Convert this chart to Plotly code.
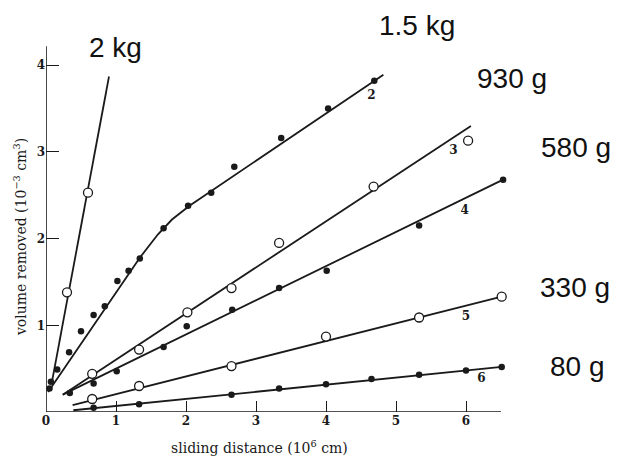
import plotly.graph_objects as go

# ---- data ----
# 2 kg (open circles)
s1_x = [0.30, 0.60]
s1_y = [1.38, 2.53]
s1_line_x = [0.09, 0.90]
s1_line_y = [0.37, 3.87]

# 1.5 kg (filled dots)
s2_x = [0.05, 0.07, 0.16, 0.33, 0.50, 0.68, 0.84, 1.02, 1.18, 1.34, 1.68, 2.03, 2.36, 2.69, 3.36, 4.03, 4.69]
s2_y = [0.27, 0.35, 0.49, 0.69, 0.93, 1.12, 1.22, 1.51, 1.63, 1.77, 2.12, 2.38, 2.53, 2.83, 3.16, 3.50, 3.82]
s2_line_x = [0.03, 1.35, 1.60, 1.80, 2.05, 4.82]
s2_line_y = [0.23, 1.79, 2.05, 2.22, 2.38, 3.89]

# 930 g (open circles)
s3_x = [0.66, 1.33, 2.02, 2.65, 3.33, 4.68, 6.03]
s3_y = [0.44, 0.72, 1.15, 1.43, 1.95, 2.60, 3.13]
s3_line_x = [0.24, 6.07]
s3_line_y = [0.20, 3.30]

# 580 g (filled dots)
s4_x = [0.34, 0.68, 1.01, 1.68, 2.01, 2.66, 3.33, 4.01, 5.33, 6.53]
s4_y = [0.22, 0.33, 0.47, 0.75, 0.99, 1.18, 1.43, 1.63, 2.15, 2.68]
s4_line_x = [0.24, 6.53]
s4_line_y = [0.20, 2.68]

# 330 g (open circles)
s5_x = [0.66, 1.33, 2.65, 4.00, 5.33, 6.51]
s5_y = [0.15, 0.30, 0.53, 0.87, 1.09, 1.33]
s5_line_x = [0.38, 6.51]
s5_line_y = [0.08, 1.33]

# 80 g (filled dots)
s6_x = [0.68, 1.33, 2.65, 3.33, 4.00, 4.65, 5.33, 6.00, 6.51]
s6_y = [0.05, 0.09, 0.20, 0.27, 0.32, 0.38, 0.43, 0.48, 0.52]
s6_line_x = [0.39, 6.51]
s6_line_y = [0.02, 0.52]

curve_nums = ["2", "3", "4", "5", "6"]
curve_num_x = [4.65, 5.82, 5.98, 6.00, 6.22]
curve_num_y = [3.64, 3.01, 2.32, 1.10, 0.38]

load_labels = ["2 kg", "1.5 kg", "930 g", "580 g", "330 g", "80 g"]
load_x = [0.99, 5.30, 6.66, 7.57, 7.56, 7.59]
load_y = [4.20, 4.46, 3.85, 3.05, 1.44, 0.52]

x_ticks = [0, 1, 2, 3, 4, 5, 6]
y_ticks = [1, 2, 3, 4]

x_title = "sliding distance (10<sup>6</sup> cm)"
y_title = "volume removed (10<sup>−3</sup> cm<sup>3</sup>)"

INK = "#1a1a1a"
SERIF = "DejaVu Serif"

fig = go.Figure()

lines = [(s1_line_x, s1_line_y), (s2_line_x, s2_line_y), (s3_line_x, s3_line_y),
         (s4_line_x, s4_line_y), (s5_line_x, s5_line_y), (s6_line_x, s6_line_y)]
for lx, ly in lines:
    fig.add_trace(go.Scatter(x=lx, y=ly, mode="lines",
                             line=dict(color=INK, width=1.8), hoverinfo="skip"))

open_pts = [(s1_x, s1_y), (s3_x, s3_y), (s5_x, s5_y)]
filled_pts = [(s2_x, s2_y), (s4_x, s4_y), (s6_x, s6_y)]
for px, py in open_pts:
    fig.add_trace(go.Scatter(x=px, y=py, mode="markers",
                             marker=dict(symbol="circle", size=9, color="white",
                                         line=dict(color=INK, width=1.3))))
for px, py in filled_pts:
    fig.add_trace(go.Scatter(x=px, y=py, mode="markers",
                             marker=dict(symbol="circle", size=6.5, color=INK,
                                         line=dict(width=0))))

fig.add_trace(go.Scatter(x=curve_num_x, y=curve_num_y, mode="text", text=curve_nums,
                         textfont=dict(family=SERIF, size=12, color=INK, weight="bold")))

# axis lines
fig.add_shape(type="line", x0=0, x1=6.5, y0=0, y1=0, line=dict(color=INK, width=1.6))
fig.add_shape(type="line", x0=0, x1=0, y0=0, y1=4.22, line=dict(color=INK, width=1.6))

for t, x, y in zip(load_labels, load_x, load_y):
    fig.add_annotation(x=x, y=y, text=t, showarrow=False,
                       xanchor="center", yanchor="middle",
                       font=dict(family="Liberation Sans", size=28, color="#111111"))

fig.add_annotation(xref="paper", yref="paper", x=0.3757, y=-0.0866, text=x_title,
                   xanchor="center", yanchor="middle",
                   showarrow=False, font=dict(family=SERIF, size=14, color=INK))
fig.add_annotation(xref="paper", yref="paper", x=-0.0459, y=0.433, text=y_title,
                   xanchor="center", yanchor="middle",
                   showarrow=False, textangle=-90,
                   font=dict(family=SERIF, size=14, color=INK))

fig.update_layout(
    width=611, height=453,
    margin=dict(l=38, r=6, t=0, b=49),
    paper_bgcolor="white", plot_bgcolor="white",
    showlegend=False,
    xaxis=dict(range=[0, 8.1], tickvals=x_ticks, ticktext=[str(v) for v in x_ticks],
               ticks="inside", ticklen=11, tickwidth=1.4, tickcolor=INK,
               showgrid=False, zeroline=False, showline=False,
               tickfont=dict(family=SERIF, size=12, color=INK, weight="bold")),
    yaxis=dict(range=[0, 4.66], tickvals=y_ticks, ticktext=[str(v) for v in y_ticks],
               ticks="inside", ticklen=13, tickwidth=1.4, tickcolor=INK,
               showgrid=False, zeroline=False, showline=False,
               tickfont=dict(family=SERIF, size=12, color=INK, weight="bold")),
)

fig.write_html("out.html")
